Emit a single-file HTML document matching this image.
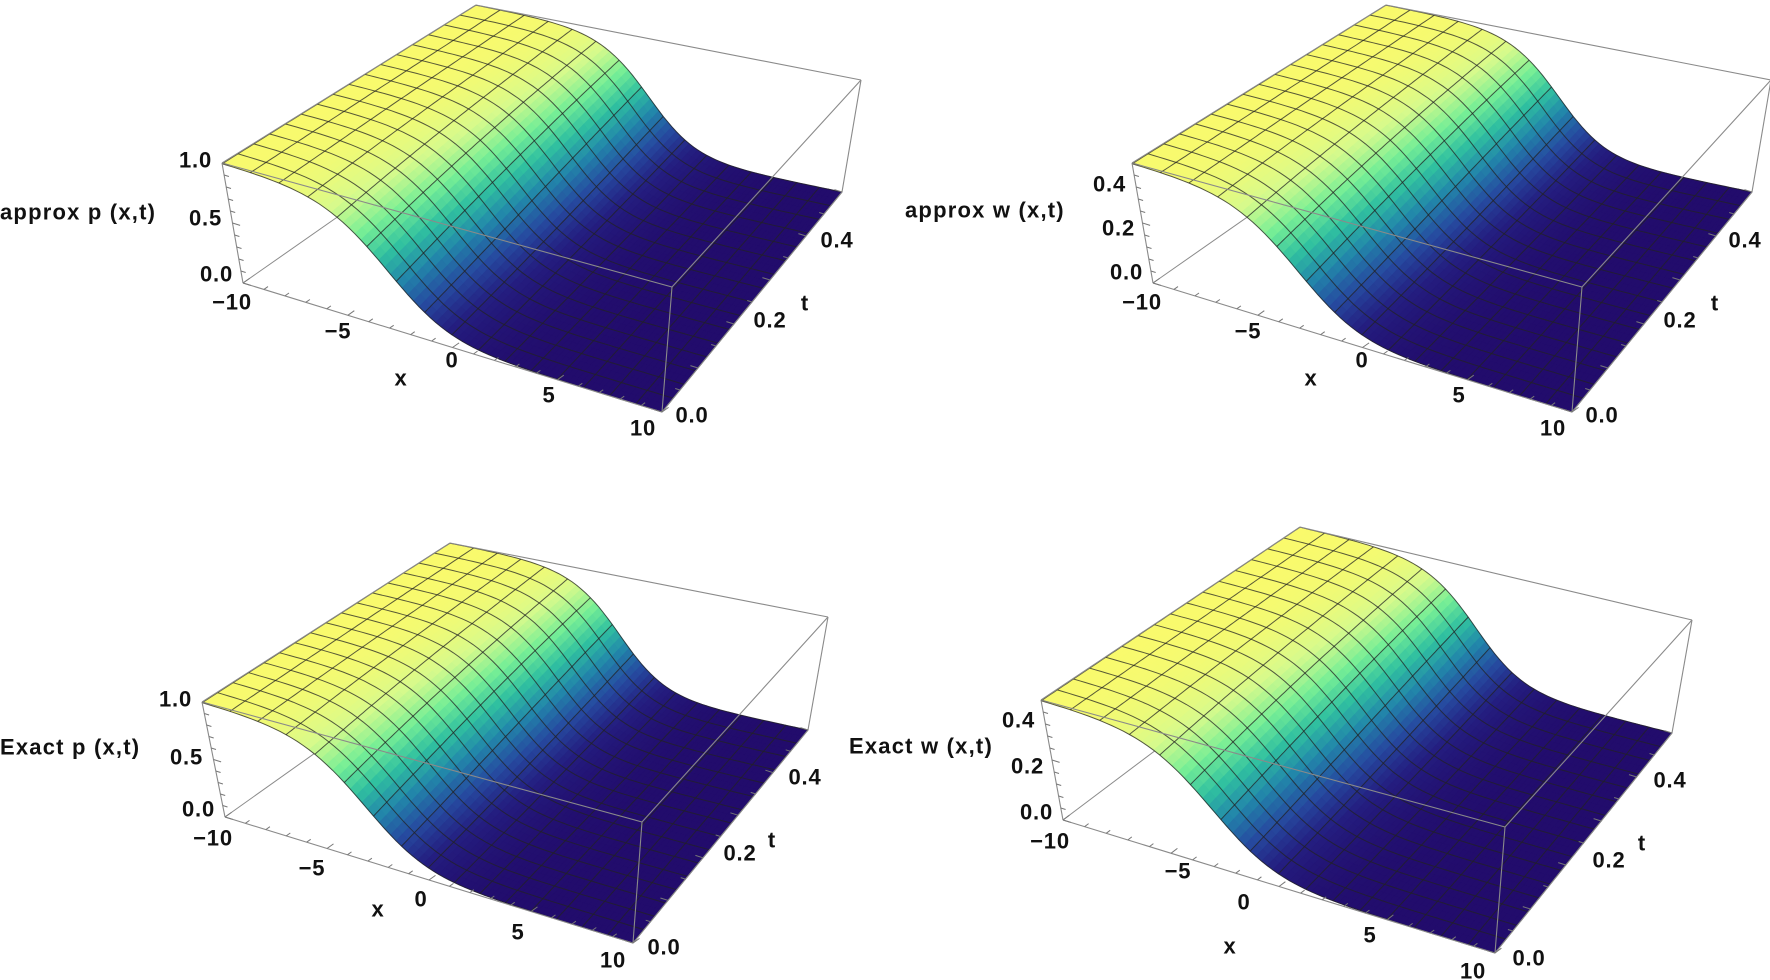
<!DOCTYPE html>
<html><head><meta charset="utf-8">
<style>
html,body{margin:0;padding:0;background:#fff;}
svg{display:block;}
text{font-family:"Liberation Sans",Arial,sans-serif;font-weight:bold;font-size:22px;letter-spacing:0.8px;fill:#111;}
text.lab{letter-spacing:1.2px;}
</style></head>
<body>
<svg id="s" width="1770" height="980" viewBox="0 0 1770 980" xmlns="http://www.w3.org/2000/svg">
<g id="surf"></g>
<g id="labels" dominant-baseline="central">
<!-- Panel 1 -->
<text class="lab" x="0" y="212">approx p (x,t)</text>
<text x="212" y="160" text-anchor="end">1.0</text>
<text x="222" y="218" text-anchor="end">0.5</text>
<text x="233" y="274" text-anchor="end">0.0</text>
<text x="232" y="302" text-anchor="middle">−10</text>
<text x="338" y="331" text-anchor="middle">−5</text>
<text x="452" y="360" text-anchor="middle">0</text>
<text x="549" y="395" text-anchor="middle">5</text>
<text x="643" y="428" text-anchor="middle">10</text>
<text x="401" y="378" text-anchor="middle">x</text>
<text x="692" y="415" text-anchor="middle">0.0</text>
<text x="770" y="320" text-anchor="middle">0.2</text>
<text x="837" y="240" text-anchor="middle">0.4</text>
<text x="805" y="303" text-anchor="middle">t</text>
<!-- Panel 2 -->
<text class="lab" x="905" y="210">approx w (x,t)</text>
<text x="1126" y="184" text-anchor="end">0.4</text>
<text x="1135" y="228" text-anchor="end">0.2</text>
<text x="1143" y="272" text-anchor="end">0.0</text>
<text x="1142" y="302" text-anchor="middle">−10</text>
<text x="1248" y="331" text-anchor="middle">−5</text>
<text x="1362" y="360" text-anchor="middle">0</text>
<text x="1459" y="395" text-anchor="middle">5</text>
<text x="1553" y="428" text-anchor="middle">10</text>
<text x="1311" y="378" text-anchor="middle">x</text>
<text x="1602" y="415" text-anchor="middle">0.0</text>
<text x="1680" y="320" text-anchor="middle">0.2</text>
<text x="1745" y="240" text-anchor="middle">0.4</text>
<text x="1715" y="303" text-anchor="middle">t</text>
<!-- Panel 3 -->
<text class="lab" x="0" y="747">Exact p (x,t)</text>
<text x="192" y="699" text-anchor="end">1.0</text>
<text x="203" y="757" text-anchor="end">0.5</text>
<text x="215" y="809" text-anchor="end">0.0</text>
<text x="213" y="838" text-anchor="middle">−10</text>
<text x="312" y="868" text-anchor="middle">−5</text>
<text x="421" y="899" text-anchor="middle">0</text>
<text x="518" y="932" text-anchor="middle">5</text>
<text x="613" y="960" text-anchor="middle">10</text>
<text x="378" y="909" text-anchor="middle">x</text>
<text x="664" y="947" text-anchor="middle">0.0</text>
<text x="740" y="853" text-anchor="middle">0.2</text>
<text x="805" y="777" text-anchor="middle">0.4</text>
<text x="772" y="840" text-anchor="middle">t</text>
<!-- Panel 4 -->
<text class="lab" x="849" y="746">Exact w (x,t)</text>
<text x="1035" y="720" text-anchor="end">0.4</text>
<text x="1044" y="766" text-anchor="end">0.2</text>
<text x="1053" y="812" text-anchor="end">0.0</text>
<text x="1050" y="841" text-anchor="middle">−10</text>
<text x="1178" y="871" text-anchor="middle">−5</text>
<text x="1244" y="902" text-anchor="middle">0</text>
<text x="1370" y="935" text-anchor="middle">5</text>
<text x="1473" y="971" text-anchor="middle">10</text>
<text x="1230" y="946" text-anchor="middle">x</text>
<text x="1529" y="958" text-anchor="middle">0.0</text>
<text x="1609" y="860" text-anchor="middle">0.2</text>
<text x="1670" y="780" text-anchor="middle">0.4</text>
<text x="1642" y="843" text-anchor="middle">t</text>
</g>
</svg>
<script>
(function(){
var NS="http://www.w3.org/2000/svg";
var g=document.getElementById("surf");
var panels=[
 {A:[222,163],Ap:[243,283],B:[476,5],Bp:[479,118],C:[861,80],Cp:[842,192],D:[672,287],Dp:[662,412]},
 {A:[1132,163],Ap:[1153,283],B:[1386,5],Bp:[1389,118],C:[1771,80],Cp:[1752,192],D:[1582,287],Dp:[1572,412]},
 {A:[202,702],Ap:[225,817],B:[450,543],Bp:[453,655],C:[828,617],Cp:[808,730],D:[642,822],Dp:[633,943]},
 {A:[1041,700],Ap:[1063,820],B:[1300,527],Bp:[1302,640],C:[1692,620],Cp:[1672,733],D:[1505,827],Dp:[1495,953]}
];
function bil(a,b,c,d,s,u){
 return [(1-s)*(1-u)*a[0]+s*(1-u)*b[0]+s*u*c[0]+(1-s)*u*d[0],
         (1-s)*(1-u)*a[1]+s*(1-u)*b[1]+s*u*c[1]+(1-s)*u*d[1]];}
function map(P,s,u,n){
 var lo=bil(P.Ap,P.Dp,P.Cp,P.Bp,s,u), hi=bil(P.A,P.D,P.C,P.B,s,u);
 return [lo[0]+n*(hi[0]-lo[0]), lo[1]+n*(hi[1]-lo[1])];}
function f(s,u){var x=-10+20*s,t=0.5*u;return 0.5*(1-Math.tanh(0.36*(x-(-3+4.2*t))));}
var stops=[[0,[34,12,108]],[0.12,[36,30,128]],[0.25,[38,75,160]],[0.4,[34,135,170]],[0.55,[48,192,160]],[0.7,[118,238,150]],[0.85,[215,250,140]],[1,[250,250,108]]];
function col(n){n=Math.max(0,Math.min(1,n));for(var i=1;i<stops.length;i++){if(n<=stops[i][0]){var a=stops[i-1],b=stops[i],r=(n-a[0])/(b[0]-a[0]);return "rgb("+[0,1,2].map(function(k){return Math.round(a[1][k]+r*(b[1][k]-a[1][k]));}).join(",")+")";}}return "rgb(250,250,108)";}
function line(p,q,c,w){var l=document.createElementNS(NS,"line");l.setAttribute("x1",p[0].toFixed(1));l.setAttribute("y1",p[1].toFixed(1));l.setAttribute("x2",q[0].toFixed(1));l.setAttribute("y2",q[1].toFixed(1));l.setAttribute("stroke",c);l.setAttribute("stroke-width",w);g.appendChild(l);}
function unit(a,b){var dx=b[0]-a[0],dy=b[1]-a[1],L=Math.hypot(dx,dy);return [dx/L,dy/L];}
panels.forEach(function(P){
 var bc="#8a8a8a";
 line(P.Ap,P.Bp,bc,1);
 var NX=80,NU=32,quads=[];
 for(var i=0;i<NX;i++)for(var j=0;j<NU;j++)quads.push([i,j]);
 quads.sort(function(a,b){return (a[0]/NX-a[1]/NU)-(b[0]/NX-b[1]/NU);});
 var frag=document.createDocumentFragment();
 quads.forEach(function(q){
  var s0=q[0]/NX,s1=(q[0]+1)/NX,u0=q[1]/NU,u1=(q[1]+1)/NU;
  var pts=[[s0,u0],[s1,u0],[s1,u1],[s0,u1]].map(function(p){return map(P,p[0],p[1],f(p[0],p[1]));});
  var c=col(f((s0+s1)/2,(u0+u1)/2));
  var pg=document.createElementNS(NS,"polygon");
  pg.setAttribute("points",pts.map(function(p){return p[0].toFixed(1)+","+p[1].toFixed(1);}).join(" "));
  pg.setAttribute("fill",c);pg.setAttribute("stroke",c);pg.setAttribute("stroke-width","0.6");
  frag.appendChild(pg);});
 g.appendChild(frag);
 var M=16,K=80;
 for(var i=0;i<=M;i++){var d="";for(var k=0;k<=K;k++){var s=i/M,u=k/K,p=map(P,s,u,f(s,u));d+=(k?"L":"M")+p[0].toFixed(1)+","+p[1].toFixed(1);}
  var pa=document.createElementNS(NS,"path");pa.setAttribute("d",d);pa.setAttribute("fill","none");pa.setAttribute("stroke","rgba(35,35,35,0.75)");pa.setAttribute("stroke-width","1");g.appendChild(pa);}
 for(var j=0;j<=M;j++){var d="";for(var k=0;k<=K;k++){var u=j/M,s=k/K,p=map(P,s,u,f(s,u));d+=(k?"L":"M")+p[0].toFixed(1)+","+p[1].toFixed(1);}
  var pa=document.createElementNS(NS,"path");pa.setAttribute("d",d);pa.setAttribute("fill","none");pa.setAttribute("stroke","rgba(35,35,35,0.75)");pa.setAttribute("stroke-width","1");g.appendChild(pa);}
 [[P.A,P.Ap],[P.A,P.B],[P.B,P.C],[P.C,P.Cp],[P.A,P.D],[P.D,P.C],[P.D,P.Dp],[P.Dp,P.Cp],[P.Ap,P.Dp]].forEach(function(e){line(e[0],e[1],bc,1.1);});
 var tc="#777";
 var ut=unit(P.Ap,P.Bp);
 for(var x=0;x<=20;x++){var p=map(P,x/20,0,0),L=(x%5==0)?8:5;line(p,[p[0]+ut[0]*L,p[1]+ut[1]*L],tc,1);}
 var us=unit(P.Dp,P.Ap);
 for(var t=0;t<=10;t++){var p=map(P,1,t/10,0),L=(t%2==0)?8:5;line(p,[p[0]+us[0]*L,p[1]+us[1]*L],tc,1);}
 var uz=unit(P.Ap,P.Dp);
 for(var z=0;z<=10;z++){var p=map(P,0,0,z/10),L=(z%5==0)?8:5;line(p,[p[0]+uz[0]*L,p[1]+uz[1]*L],tc,1);}
});
})();
</script>
</body></html>
